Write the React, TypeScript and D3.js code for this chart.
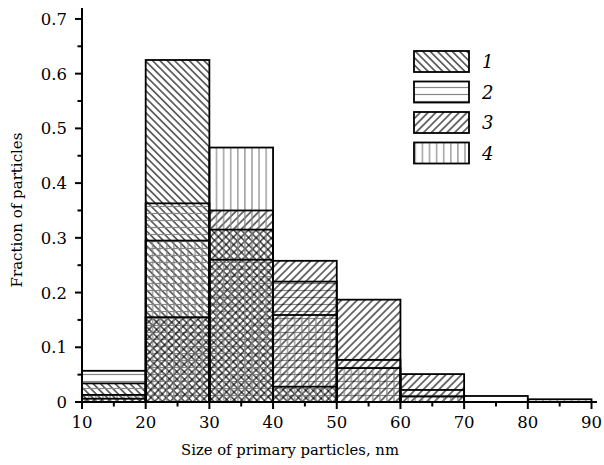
import React from "react";
import * as d3 from "d3";

const binStarts = [10, 20, 30, 40, 50, 60, 70, 80];
const binWidth = 10;
const series1 = [0.034, 0.625, 0.315, 0.028, 0, 0, 0, 0];
const series2 = [0.057, 0.363, 0.26, 0.22, 0.077, 0.022, 0.011, 0];
const series3 = [0.006, 0.155, 0.35, 0.258, 0.187, 0.051, 0, 0];
const series4 = [0.013, 0.295, 0.465, 0.159, 0.062, 0.01, 0, 0.005];
const seriesNames = ["1", "2", "3", "4"];
const xTicks = [10, 20, 30, 40, 50, 60, 70, 80, 90];
const yTicks = [0, 0.1, 0.2, 0.3, 0.4, 0.5, 0.6, 0.7];

const W = 604;
const H = 465;
const FONT = "DejaVu Serif, serif";

export default function App() {
  const x = d3.scaleLinear().domain([10, 90]).range([82, 591.5]);
  const y = d3.scaleLinear().domain([0, 0.72]).range([402, 8]);
  const all = [series1, series2, series3, series4];
  const minorX = d3.range(15, 90, 10);
  const minorY = d3.range(0.05, 0.71, 0.1);

  const legendX = 414;
  const legendY0 = 51;
  const legendStep = 30.5;
  const txt = { fontFamily: FONT };

  return (
    <svg width={W} height={H} style={{ position: "absolute", left: 0, top: 0, background: "#fff" }}>
      <defs>
        <pattern id="p1" width="5.2" height="10" patternUnits="userSpaceOnUse" patternTransform="rotate(-45)">
          <line x1="2.6" y1="0" x2="2.6" y2="10" stroke="#000" strokeWidth="1.1" />
        </pattern>
        <pattern id="p2" width="10" height="7" patternUnits="userSpaceOnUse">
          <line x1="0" y1="3.5" x2="10" y2="3.5" stroke="#888" strokeWidth="1.2" />
        </pattern>
        <pattern id="p3" width="5.5" height="10" patternUnits="userSpaceOnUse" patternTransform="rotate(45)">
          <line x1="2.75" y1="0" x2="2.75" y2="10" stroke="#000" strokeWidth="1.1" />
        </pattern>
        <pattern id="p4" width="7.1" height="10" patternUnits="userSpaceOnUse">
          <line x1="3.5" y1="0" x2="3.5" y2="10" stroke="#888" strokeWidth="1.2" />
        </pattern>
      </defs>

      {all.map((s, si) =>
        s.map((v, bi) =>
          v > 0 ? (
            <rect
              key={`f${si}-${bi}`}
              x={x(binStarts[bi])}
              y={y(v)}
              width={x(binStarts[bi] + binWidth) - x(binStarts[bi])}
              height={y(0) - y(v)}
              fill={`url(#p${si + 1})`}
            />
          ) : null
        )
      )}
      {all.map((s, si) =>
        s.map((v, bi) =>
          v > 0 ? (
            <rect
              key={`o${si}-${bi}`}
              x={x(binStarts[bi])}
              y={y(v)}
              width={x(binStarts[bi] + binWidth) - x(binStarts[bi])}
              height={y(0) - y(v)}
              fill="none"
              stroke="#000"
              strokeWidth={1.8}
            />
          ) : null
        )
      )}

      <line x1={82} y1={8} x2={82} y2={403} stroke="#000" strokeWidth={2} />
      <line x1={75} y1={402} x2={597} y2={402} stroke="#000" strokeWidth={2} />
      {yTicks.map((t) => (
        <g key={`yt${t}`}>
          <line x1={75} x2={82} y1={y(t)} y2={y(t)} stroke="#000" strokeWidth={2} />
          <text x={67} y={y(t) + 6} textAnchor="end" style={txt} fontSize={16.5}>
            {t === 0 ? "0" : d3.format(".1f")(t)}
          </text>
        </g>
      ))}
      {minorY.map((t) => (
        <line key={`ym${t}`} x1={77.5} x2={82} y1={y(t)} y2={y(t)} stroke="#000" strokeWidth={2} />
      ))}
      {xTicks.map((t) => (
        <g key={`xt${t}`}>
          <line x1={x(t)} x2={x(t)} y1={402} y2={409} stroke="#000" strokeWidth={2} />
          <text x={x(t)} y={428} textAnchor="middle" style={txt} fontSize={16.5}>
            {t}
          </text>
        </g>
      ))}
      {minorX.map((t) => (
        <line key={`xm${t}`} x1={x(t)} x2={x(t)} y1={402} y2={406.5} stroke="#000" strokeWidth={2} />
      ))}

      <text x={290} y={455} textAnchor="middle" style={txt} fontSize={14.8}>
        Size of primary particles, nm
      </text>
      <text transform="translate(22,210) rotate(-90)" textAnchor="middle" style={txt} fontSize={15}>
        Fraction of particles
      </text>

      {seriesNames.map((n, i) => (
        <g key={`lg${n}`}>
          <rect x={legendX} y={legendY0 + i * legendStep} width={55} height={21} fill={`url(#p${i + 1})`} />
          <rect
            x={legendX}
            y={legendY0 + i * legendStep}
            width={55}
            height={21}
            fill="none"
            stroke="#000"
            strokeWidth={1.8}
          />
          <text x={482} y={legendY0 + i * legendStep + 17} style={txt} fontStyle="italic" fontSize={18}>
            {n}
          </text>
        </g>
      ))}
    </svg>
  );
}
